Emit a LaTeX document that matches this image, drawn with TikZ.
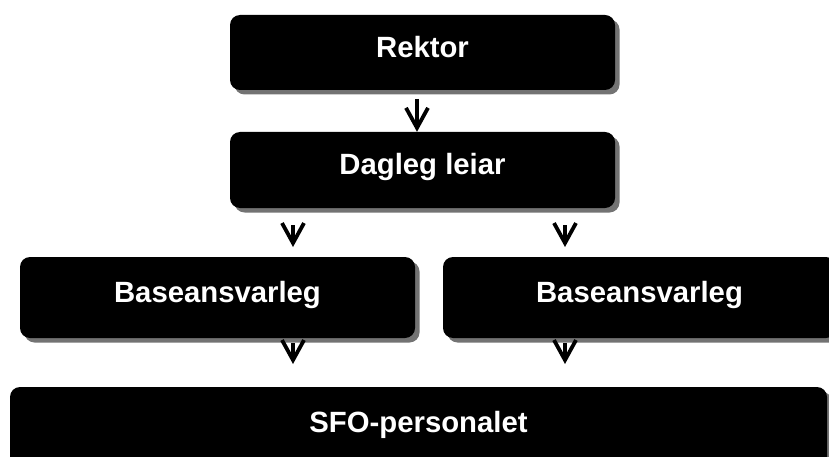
\documentclass[tikz,border=0pt]{standalone}
\usepackage{fontspec}
\setmainfont{Liberation Sans}
\usetikzlibrary{shadows,arrows.meta}
\begin{document}
\begin{tikzpicture}[x=1pt,y=-1pt,
  orgbox/.style={fill=black, rounded corners=10pt, inner sep=0pt,
    text=white, font=\fontsize{29.3}{34}\selectfont\bfseries,
    drop shadow={shadow xshift=4.5pt, shadow yshift=-4.5pt, fill=gray!90!black, opacity=1}},
  bh/.style={minimum height=#1 pt, text height=#1pt/2+5pt, text depth=#1pt/2-5pt},
  arr/.style={line width=3.6pt, -{Straight Barb[length=20pt,width=22pt,line width=3.8pt]}}]
\useasboundingbox (0,0) rectangle (829,457);
\clip (0,0) rectangle (829,457);
\node[orgbox, minimum width=385pt, bh=75] (rektor) at (422.5,52.5) {Rektor};
\node[orgbox, minimum width=385pt, bh=76] (dagleg) at (422.5,170) {Dagleg leiar};
\node[orgbox, minimum width=395pt, bh=81] (base1) at (217.5,297.5) {Baseansvarleg};
\node[orgbox, minimum width=393pt, bh=81] (base2) at (639.5,297.5) {Baseansvarleg};
\node[orgbox, minimum width=817pt, bh=80] (sfo) at (418.5,427) {SFO-personalet};
\coordinate (a1s) at (417,99);
\coordinate (a2s) at (293,225);
\coordinate (a2e) at (293,247);
\coordinate (a3s) at (565,225);
\coordinate (a3e) at (565,247);
\coordinate (a4s) at (293,343);
\coordinate (a4e) at (293,364);
\coordinate (a5s) at (565,343);
\coordinate (a5e) at (565,364);
\draw[arr] (a1s) -- (dagleg.north -| a1s);
\draw[arr] (a2s) -- (a2e);
\draw[arr] (a3s) -- (a3e);
\draw[arr] (a4s) -- (a4e);
\draw[arr] (a5s) -- (a5e);
\end{tikzpicture}
\end{document}
